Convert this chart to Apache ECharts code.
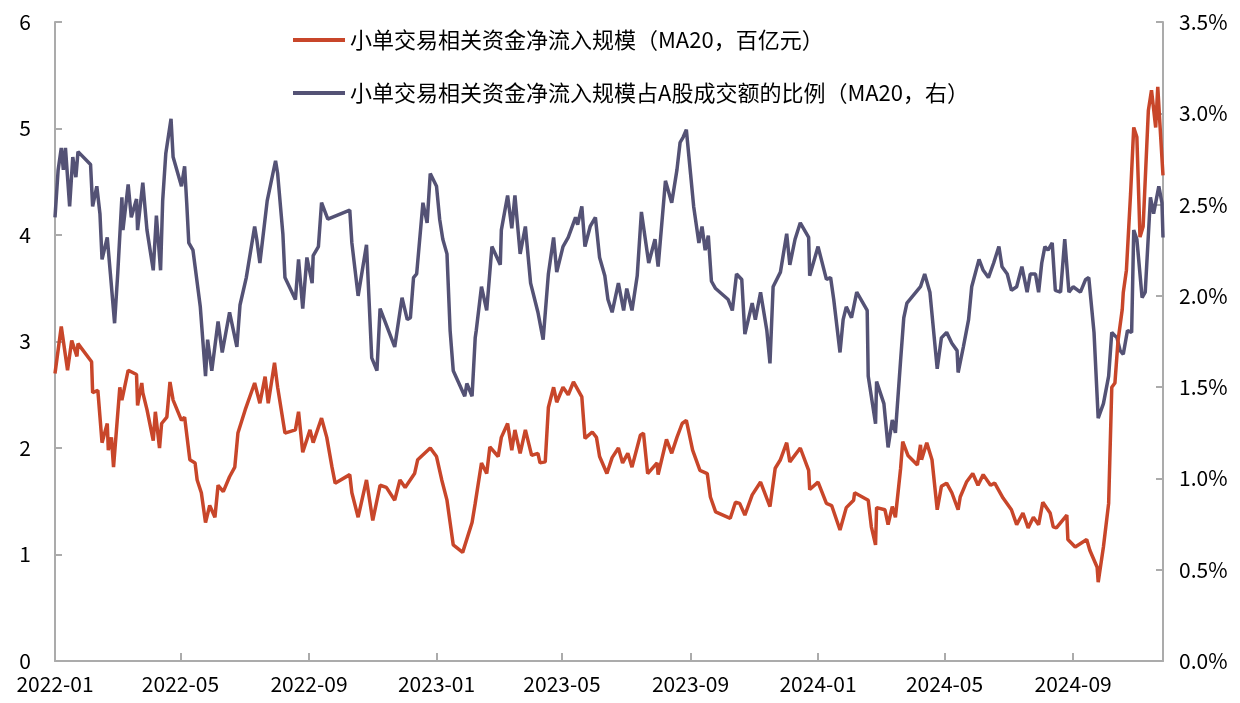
<!DOCTYPE html>
<html>
<head>
<meta charset="utf-8">
<script src="https://cdn.jsdelivr.net/npm/echarts@6/dist/echarts.min.js"></script>
<style>
  html, body { margin: 0; padding: 0; background: #fff; }
  #chart { width: 1240px; height: 703px; }
</style>
</head>
<body>
<div id="chart"></div>
<script>
// ----------- 数据 -----------
// 日期用 2022-01-01 之后的天数表示
var seriesNames = ['小单交易相关资金净流入规模（MA20，百亿元）', '小单交易相关资金净流入规模占A股成交额的比例（MA20，右）']

var redDays = [0, 6, 12, 16, 21, 22, 35, 36, 41, 45, 50, 51, 54, 56, 62, 64, 70, 78, 79, 83, 84, 88, 94, 96, 100, 102, 107, 110, 113, 121, 124, 129, 134, 136, 140, 144, 148, 153, 156, 161, 167, 172, 175, 182, 191, 196, 201, 204, 210, 213, 220, 230, 233, 237, 244, 247, 255, 260, 265, 268, 282, 284, 290, 298, 304, 311, 317, 325, 330, 335, 344, 347, 359, 365, 370, 375, 381, 390, 399, 402, 408, 413, 416, 424, 427, 433, 437, 440, 445, 450, 456, 462, 464, 469, 472, 477, 480, 486, 491, 496, 504, 507, 514, 518, 521, 528, 533, 539, 543, 548, 552, 560, 563, 567, 576, 577, 585, 590, 595, 600, 604, 610, 617, 624, 627, 632, 646, 651, 655, 660, 667, 675, 684, 689, 694, 700, 703, 713, 721, 722, 730, 738, 743, 751, 757, 764, 765, 778, 781, 785, 786, 794, 797, 801, 804, 809, 811, 816, 825, 828, 829, 834, 839, 844, 848, 853, 858, 864, 866, 872, 878, 883, 888, 895, 899, 907, 915, 920, 926, 931, 936, 941, 945, 952, 955, 958, 968, 969, 976, 987, 990, 997, 998, 1003, 1008, 1011, 1014, 1017, 1021, 1022, 1025, 1029, 1032, 1035, 1038, 1041, 1046, 1049, 1053, 1055, 1057, 1060]
var redValues = [2.70, 3.14, 2.73, 3.01, 2.86, 2.98, 2.81, 2.52, 2.54, 2.05, 2.23, 1.98, 2.10, 1.82, 2.57, 2.45, 2.73, 2.69, 2.40, 2.61, 2.52, 2.36, 2.07, 2.34, 2.00, 2.23, 2.29, 2.62, 2.45, 2.26, 2.29, 1.89, 1.86, 1.70, 1.58, 1.30, 1.46, 1.35, 1.65, 1.59, 1.73, 1.82, 2.14, 2.36, 2.61, 2.42, 2.67, 2.42, 2.80, 2.57, 2.14, 2.17, 2.34, 1.96, 2.17, 2.05, 2.28, 2.10, 1.82, 1.67, 1.75, 1.58, 1.35, 1.70, 1.32, 1.65, 1.63, 1.51, 1.70, 1.63, 1.76, 1.89, 2.00, 1.92, 1.70, 1.51, 1.09, 1.02, 1.30, 1.48, 1.86, 1.76, 2.01, 1.92, 2.10, 2.23, 1.98, 2.17, 1.95, 2.17, 1.93, 1.95, 1.86, 1.87, 2.38, 2.57, 2.43, 2.57, 2.50, 2.62, 2.48, 2.09, 2.15, 2.10, 1.92, 1.76, 1.91, 2.00, 1.86, 1.95, 1.82, 2.12, 2.14, 1.76, 1.86, 1.75, 2.08, 1.95, 2.10, 2.23, 2.26, 1.98, 1.79, 1.76, 1.54, 1.40, 1.34, 1.49, 1.48, 1.37, 1.56, 1.68, 1.45, 1.81, 1.89, 2.05, 1.87, 2.00, 1.79, 1.61, 1.68, 1.48, 1.46, 1.23, 1.44, 1.51, 1.58, 1.51, 1.26, 1.09, 1.44, 1.42, 1.28, 1.45, 1.35, 1.81, 2.06, 1.93, 1.84, 2.03, 1.89, 2.05, 1.89, 1.42, 1.64, 1.67, 1.58, 1.42, 1.54, 1.68, 1.76, 1.65, 1.75, 1.65, 1.67, 1.53, 1.42, 1.28, 1.39, 1.25, 1.35, 1.28, 1.49, 1.39, 1.26, 1.25, 1.37, 1.14, 1.07, 1.14, 1.04, 0.88, 0.74, 1.07, 1.48, 2.57, 2.61, 3.01, 3.30, 3.46, 3.67, 4.39, 5.01, 4.92, 3.98, 4.08, 5.17, 5.36, 5.01, 5.39, 5.05, 4.56]

var blueDays = [0, 3, 6, 8, 10, 14, 17, 20, 22, 34, 36, 40, 43, 45, 50, 53, 57, 60, 64, 65, 70, 73, 78, 79, 84, 88, 94, 97, 101, 103, 106, 111, 113, 121, 124, 126, 128, 132, 139, 144, 146, 150, 156, 160, 167, 174, 177, 183, 191, 193, 196, 203, 211, 213, 218, 220, 230, 233, 237, 241, 246, 247, 252, 255, 261, 282, 284, 290, 298, 303, 308, 311, 325, 332, 337, 340, 343, 346, 352, 356, 359, 365, 368, 371, 375, 378, 381, 392, 394, 399, 402, 403, 408, 413, 418, 426, 427, 433, 437, 440, 445, 450, 455, 462, 467, 472, 477, 480, 486, 491, 498, 500, 504, 507, 512, 517, 521, 526, 529, 533, 539, 544, 547, 552, 557, 561, 568, 574, 577, 584, 590, 595, 598, 601, 604, 608, 611, 616, 619, 622, 625, 628, 632, 644, 648, 652, 657, 660, 667, 670, 675, 681, 684, 687, 694, 700, 703, 708, 713, 721, 722, 730, 738, 742, 745, 751, 754, 757, 762, 767, 777, 778, 785, 786, 793, 797, 801, 804, 809, 812, 815, 828, 832, 837, 844, 848, 853, 858, 863, 864, 869, 874, 877, 884, 888, 893, 898, 903, 906, 911, 915, 920, 925, 930, 933, 938, 941, 944, 947, 950, 954, 957, 962, 966, 970, 974, 981, 986, 989, 992, 994, 998, 1003, 1008, 1011, 1016, 1019, 1022, 1026, 1030, 1032, 1035, 1040, 1043, 1048, 1051, 1056, 1059, 1060]
var blueValues = [2.43, 2.69, 2.81, 2.69, 2.81, 2.49, 2.76, 2.65, 2.79, 2.72, 2.49, 2.60, 2.45, 2.20, 2.32, 2.12, 1.85, 2.12, 2.54, 2.36, 2.61, 2.43, 2.53, 2.36, 2.62, 2.36, 2.14, 2.44, 2.14, 2.52, 2.78, 2.97, 2.76, 2.60, 2.71, 2.51, 2.29, 2.25, 1.94, 1.56, 1.76, 1.59, 1.86, 1.69, 1.91, 1.72, 1.95, 2.10, 2.38, 2.31, 2.18, 2.52, 2.74, 2.67, 2.34, 2.10, 1.98, 2.20, 1.93, 2.21, 2.07, 2.22, 2.27, 2.51, 2.42, 2.47, 2.29, 2.00, 2.28, 1.66, 1.59, 1.93, 1.72, 1.99, 1.87, 1.88, 2.10, 2.12, 2.51, 2.40, 2.67, 2.60, 2.42, 2.31, 2.23, 1.81, 1.59, 1.45, 1.52, 1.45, 1.77, 1.81, 2.05, 1.92, 2.27, 2.17, 2.36, 2.55, 2.37, 2.55, 2.23, 2.38, 2.07, 1.91, 1.76, 2.12, 2.32, 2.13, 2.27, 2.32, 2.43, 2.39, 2.49, 2.27, 2.38, 2.43, 2.21, 2.11, 1.98, 1.91, 2.07, 1.92, 2.04, 1.92, 2.11, 2.46, 2.18, 2.31, 2.16, 2.63, 2.51, 2.69, 2.84, 2.87, 2.91, 2.67, 2.49, 2.29, 2.38, 2.25, 2.33, 2.08, 2.04, 1.98, 1.92, 2.12, 2.09, 1.79, 1.96, 1.87, 2.02, 1.81, 1.63, 2.05, 2.13, 2.34, 2.17, 2.31, 2.40, 2.32, 2.11, 2.27, 2.09, 2.10, 1.98, 1.69, 1.87, 1.94, 1.88, 2.02, 1.92, 1.56, 1.30, 1.53, 1.41, 1.17, 1.32, 1.25, 1.65, 1.88, 1.96, 2.05, 2.12, 2.02, 1.60, 1.77, 1.80, 1.74, 1.70, 1.58, 1.72, 1.87, 2.05, 2.20, 2.14, 2.10, 2.18, 2.27, 2.16, 2.12, 2.03, 2.05, 2.16, 2.02, 2.12, 2.12, 2.02, 2.18, 2.27, 2.25, 2.29, 2.03, 2.02, 2.31, 2.02, 2.05, 2.02, 2.09, 2.10, 1.92, 1.80, 1.33, 1.41, 1.56, 1.80, 1.77, 1.70, 1.68, 1.81, 1.80, 2.36, 2.31, 1.99, 2.02, 2.54, 2.45, 2.60, 2.51, 2.32]

// x 轴刻度（每四个月）
var xTickMonths = ['2022-01', '2022-05', '2022-09', '2023-01', '2023-05', '2023-09', '2024-01', '2024-05', '2024-09']
var endDay = 1060

var colorList = ['#C8462A', '#545275']
var fontFamily = '"Noto Sans CJK SC", "Noto Sans", sans-serif'

// ----------- 工具函数 -----------
function day_to_time(day) {
    return new Date(2022, 0, 1 + day).getTime()
}
function month_to_time(str) {
    var parts = str.split('-')
    return new Date(parseInt(parts[0]), parseInt(parts[1]) - 1, 1).getTime()
}
function pair_data(days, values) {
    return days.map(function (d, i) { return [day_to_time(d), values[i]] })
}
function time_to_month(value) {
    var d = new Date(value)
    var m = d.getMonth() + 1
    return d.getFullYear() + '-' + (m < 10 ? '0' + m : m)
}

var xTicks = xTickMonths.map(month_to_time)

var chart = echarts.init(document.getElementById('chart'))
var axisLineStyle = { color: '#ABABAB', width: 2 }

var option = {
    animation: false,
    backgroundColor: '#fff',
    textStyle: { fontFamily: fontFamily },
    grid: { left: 55, right: 77, top: 22, bottom: 42, containLabel: false },
    legend: {
        orient: 'vertical',
        left: 293,
        top: 29,
        padding: 0,
        itemWidth: 52,
        itemHeight: 4,
        itemGap: 31,
        icon: 'rect',
        textStyle: { fontSize: 22, color: '#000', fontFamily: fontFamily },
        data: seriesNames
    },
    xAxis: {
        // 用数值轴放时间戳，刻度手动放在每四个月的月初
        type: 'value',
        min: day_to_time(0),
        max: day_to_time(endDay),
        scale: true,
        splitLine: { show: false },
        axisLine: { lineStyle: axisLineStyle },
        axisTick: { show: true, inside: true, length: 8, lineStyle: axisLineStyle, customValues: xTicks },
        axisLabel: {
            customValues: xTicks,
            color: '#000',
            fontSize: 21,
            margin: 13,
            fontFamily: fontFamily,
            formatter: time_to_month
        }
    },
    yAxis: [
        {
            type: 'value',
            min: 0,
            max: 6,
            interval: 1,
            splitLine: { show: false },
            axisLine: { show: true, lineStyle: axisLineStyle },
            axisTick: { show: true, inside: true, length: 7, lineStyle: axisLineStyle },
            axisLabel: { color: '#000', fontSize: 21, margin: 24, fontFamily: fontFamily }
        },
        {
            type: 'value',
            min: 0,
            max: 3.5,
            interval: 0.5,
            position: 'right',
            splitLine: { show: false },
            axisLine: { show: true, lineStyle: axisLineStyle },
            axisTick: { show: true, inside: true, length: 7, lineStyle: axisLineStyle },
            axisLabel: {
                color: '#000', fontSize: 21, margin: 16, fontFamily: fontFamily,
                formatter: function (value) { return value.toFixed(1) + '%' }
            }
        }
    ],
    series: [
        {
            name: seriesNames[0],
            type: 'line',
            yAxisIndex: 0,
            data: pair_data(redDays, redValues),
            showSymbol: false,
            symbol: 'none',
            color: colorList[0],
            lineStyle: { width: 3.5, color: colorList[0] },
            z: 3
        },
        {
            name: seriesNames[1],
            type: 'line',
            yAxisIndex: 1,
            data: pair_data(blueDays, blueValues),
            showSymbol: false,
            symbol: 'none',
            color: colorList[1],
            lineStyle: { width: 3.5, color: colorList[1] },
            z: 2
        }
    ]
}

chart.setOption(option)
</script>
</body>
</html>
